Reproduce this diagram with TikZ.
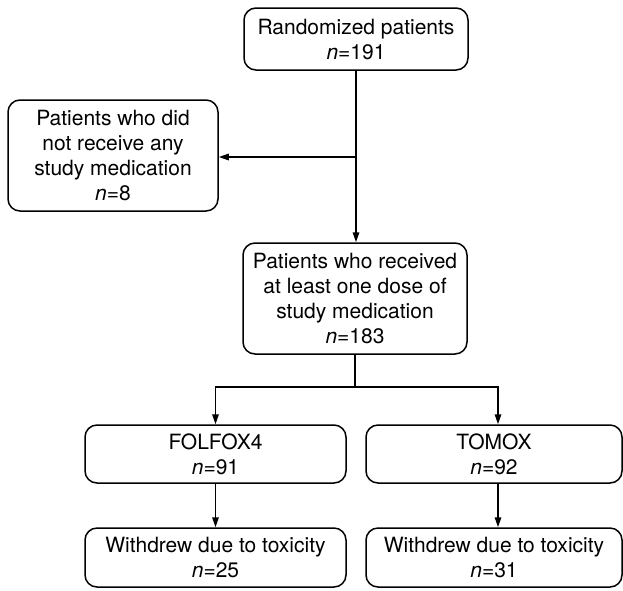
\documentclass[tikz,border=0pt]{standalone}
\usepackage{fontspec}
\setmainfont{TeX Gyre Heros}
\usetikzlibrary{arrows.meta}
\begin{document}
\begin{tikzpicture}[x=1pt,y=-1pt,
  flowbox/.style={draw, line width=1.5pt, rounded corners=12pt, align=center,
    inner sep=0pt, font=\fontsize{21}{25}\selectfont},
  conn/.style={line width=1.5pt},
  arr/.style={conn, -{Triangle[length=10pt,width=6.5pt]}}]
\useasboundingbox (0,0) rectangle (623,590);
\node[flowbox, minimum width=224pt, minimum height=62pt] (top) at (356,39) {Randomized patients\\\textit{n}=191};
\node[flowbox, minimum width=210pt, minimum height=111pt] (left) at (113,155.5) {Patients who did\\not receive any\\study medication\\\textit{n}=8};
\node[flowbox, minimum width=224pt, minimum height=111pt] (mid) at (355,298.5) {Patients who received\\at least one dose of\\study medication\\\textit{n}=183};
\node[flowbox, minimum width=261pt, minimum height=58pt] (folfox) at (215.5,454) {FOLFOX4\\\textit{n}=91};
\node[flowbox, minimum width=256pt, minimum height=58pt] (tomox) at (494,454) {TOMOX\\\textit{n}=92};
\node[flowbox, minimum width=261pt, minimum height=59pt] (wd1) at (215.5,557.5) {Withdrew due to toxicity\\\textit{n}=25};
\node[flowbox, minimum width=256pt, minimum height=59pt] (wd2) at (494,557.5) {Withdrew due to toxicity\\\textit{n}=31};
\coordinate (j1) at (356,157);
\coordinate (b) at (355,387);
\coordinate (tx) at (498,454);
\draw[arr] (top.south) -- (mid.north -| top.south);
\draw[arr] (j1) -- (j1 -| left.east);
\draw[conn] (mid.south) -- (b);
\draw[arr] (b) -| (folfox.north);
\draw[arr] (b) -| (tx |- tomox.north);
\draw[arr] (folfox.south) -- (wd1.north);
\draw[arr] (tx |- tomox.south) -- (tx |- wd2.north);
\end{tikzpicture}
\end{document}
